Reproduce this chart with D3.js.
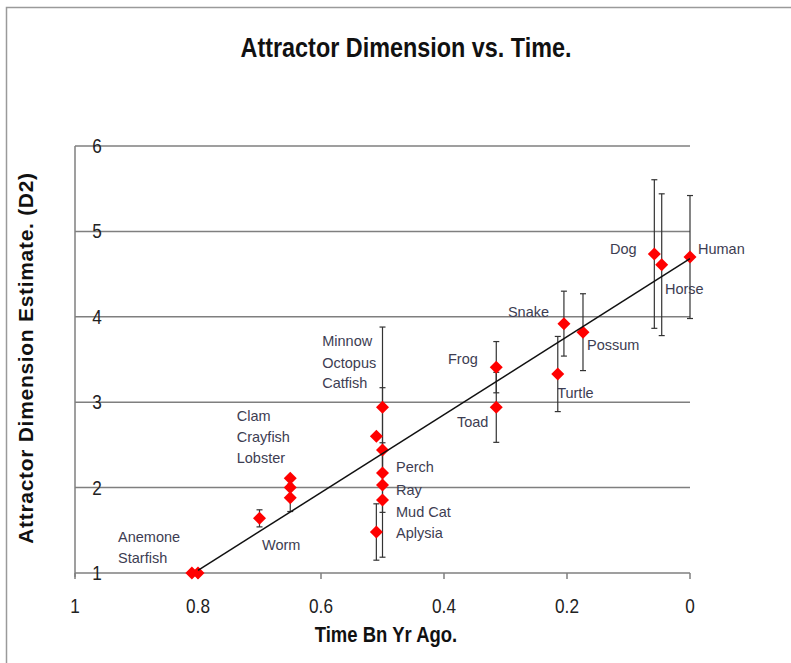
<!DOCTYPE html>
<html><head><meta charset="utf-8">
<script src="https://cdn.jsdelivr.net/npm/d3@7/dist/d3.min.js"></script>
<style>html,body{margin:0;padding:0;background:#fff;}svg{display:block;}</style>
</head><body>
<script>
// ---- data ----
const names  = ["Anemone","Starfish","Worm","Clam","Crayfish","Lobster","Minnow","Octopus","Catfish","Perch","Ray","Mud Cat","Aplysia","Frog","Toad","Turtle","Snake","Possum","Dog","Horse","Human"];
const timeBn = [0.81,0.80,0.70,0.65,0.65,0.65,0.50,0.51,0.50,0.50,0.50,0.50,0.51,0.315,0.315,0.215,0.205,0.174,0.058,0.046,0.0];
const dimD2  = [1.0,1.0,1.64,2.11,2.0,1.88,2.94,2.60,2.44,2.17,2.03,1.855,1.48,3.41,2.94,3.33,3.92,3.82,4.735,4.61,4.70];
const errD2  = [0,0,0.1,0,0,0.16,0.94,0,0.73,0,0,0.67,0.33,0.30,0.41,0.44,0.38,0.45,0.87,0.83,0.72];
// annotation anchors (data units)
const labelX = [0.930,0.930,0.696,0.737,0.737,0.737,0.598,0.598,0.598,0.478,0.478,0.478,0.478,0.3935,0.379,0.216,0.296,0.1675,0.130,0.0407,-0.013];
const labelY = [1.363,1.117,1.269,2.78,2.534,2.288,3.658,3.40,3.166,2.183,1.913,1.656,1.41,3.447,2.71,3.049,3.998,3.611,4.735,4.267,4.735];
const trendX = [0.80, 0.0];
const trendY = [1.03, 4.68];
const xTicks = [1,0.8,0.6,0.4,0.2,0];
const yTicks = [1,2,3,4,5,6];
const title = "Attractor Dimension vs. Time.";
const xTitle = "Time Bn Yr Ago.";
const yTitle = "Attractor Dimension Estimate. (D2)";

const W=791,H=663;
const svg=d3.select("body").append("svg").attr("width",W).attr("height",H);
const font="'Liberation Sans', Arial, sans-serif";

// frame
svg.append("path").attr("d",`M6.5,${H} L6.5,7.5 L${W},7.5`).attr("fill","none").attr("stroke","#9a9a9a").attr("stroke-width",1.5);

const x=d3.scaleLinear().domain([1,0]).range([75,690]);
const y=d3.scaleLinear().domain([1,6]).range([573,146]);

// gridlines
svg.append("g").selectAll("line").data(yTicks).join("line")
  .attr("x1",x(1)).attr("x2",x(0)).attr("y1",d=>y(d)).attr("y2",d=>y(d))
  .attr("stroke","#7f7f7f").attr("stroke-width",1.5);
// y axis line
svg.append("line").attr("x1",x(1)).attr("x2",x(1)).attr("y1",y(6)).attr("y2",y(1)+4)
  .attr("stroke","#7f7f7f").attr("stroke-width",1.5);
// x axis ticks
svg.append("g").selectAll("line").data(xTicks).join("line")
  .attr("x1",d=>x(d)).attr("x2",d=>x(d)).attr("y1",y(1)).attr("y2",y(1)+6)
  .attr("stroke","#7f7f7f").attr("stroke-width",1.5);
// tick labels (slightly condensed like the original)
svg.append("g").selectAll("text").data(yTicks).join("text")
  .attr("transform",d=>`translate(97,${y(d)+7}) scale(0.88,1)`).attr("text-anchor","middle")
  .attr("font-family",font).attr("font-size",19.5).attr("fill","#222").text(d=>d);
svg.append("g").selectAll("text").data(xTicks).join("text")
  .attr("transform",d=>`translate(${x(d)},613) scale(0.86,1)`).attr("text-anchor","middle")
  .attr("font-family",font).attr("font-size",20).attr("fill","#222").text(d=>d);

// titles
svg.append("text").attr("transform","translate(406,57) scale(0.86,1)").attr("text-anchor","middle")
  .attr("font-family",font).attr("font-weight","bold").attr("font-size",27.2).attr("fill","#111").text(title);
svg.append("text").attr("transform","translate(386,642) scale(0.86,1)").attr("text-anchor","middle")
  .attr("font-family",font).attr("font-weight","bold").attr("font-size",21.5).attr("fill","#111").text(xTitle);
svg.append("text").attr("transform","translate(33,358) rotate(-90)").attr("text-anchor","middle")
  .attr("font-family",font).attr("font-weight","bold").attr("font-size",21).attr("letter-spacing",0.7).attr("fill","#111").text(yTitle);

const pts=names.map((n,i)=>({n,x:timeBn[i],y:dimD2[i],e:errD2[i],lx:labelX[i],ly:labelY[i]}));

// error bars
const eb=svg.append("g").attr("stroke","#333").attr("stroke-width",1.2);
pts.filter(d=>d.e>0).forEach(d=>{
  const cx=x(d.x),y1=y(d.y+d.e),y2=y(d.y-d.e);
  eb.append("line").attr("x1",cx).attr("x2",cx).attr("y1",y1).attr("y2",y2);
  eb.append("line").attr("x1",cx-3).attr("x2",cx+3).attr("y1",y1).attr("y2",y1);
  eb.append("line").attr("x1",cx-3).attr("x2",cx+3).attr("y1",y2).attr("y2",y2);
});

// diamonds
const r=6.5;
svg.append("g").selectAll("path").data(pts).join("path")
  .attr("d",d=>{const cx=x(d.x),cy=y(d.y);return `M${cx},${cy-r}L${cx+r},${cy}L${cx},${cy+r}L${cx-r},${cy}Z`;})
  .attr("fill","#ff0000");

// trend line
svg.append("line").attr("x1",x(trendX[0])).attr("y1",y(trendY[0])).attr("x2",x(trendX[1])).attr("y2",y(trendY[1]))
  .attr("stroke","#111").attr("stroke-width",1.5);

// labels
svg.append("g").selectAll("text").data(pts).join("text")
  .attr("x",d=>x(d.lx)).attr("y",d=>y(d.ly))
  .attr("font-family",font).attr("font-size",14.5).attr("fill","#3d3d52").text(d=>d.n);
</script>
</body></html>
